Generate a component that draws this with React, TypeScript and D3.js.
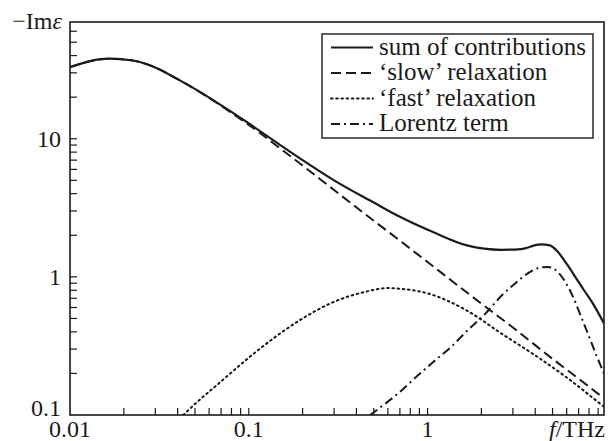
import React from "react";
import * as d3 from "d3";

const width = 608;
const height = 441;
const margin = { top: 22, right: 4, bottom: 26, left: 70 };

// frequency (THz) and -Im eps
const sumF = [0.01, 0.013, 0.0165, 0.022, 0.028, 0.04, 0.055, 0.075, 0.1, 0.15, 0.2, 0.3, 0.5, 0.7, 1.08, 1.66, 2.58, 3.33, 4.3, 4.83, 5.35, 6.0, 6.67, 7.5, 8.3, 9.7];
const sumV = [33, 36.5, 38, 37, 34, 27, 21.3, 16.5, 12.9, 9.0, 7.0, 5.0, 3.45, 2.72, 2.1, 1.69, 1.57, 1.59, 1.72, 1.69, 1.52, 1.24, 1.01, 0.8, 0.66, 0.46];

const slowF = [0.01, 0.013, 0.0165, 0.022, 0.028, 0.04, 0.055, 0.075, 0.1, 0.15, 0.2, 0.3, 0.5, 0.7, 1, 2, 3, 5, 7, 9.7];
const slowV = [33, 36.5, 38, 37, 34, 27, 21.2, 16.3, 12.6, 8.5, 6.4, 4.25, 2.55, 1.83, 1.28, 0.64, 0.43, 0.255, 0.183, 0.132];

const fastF = [0.043, 0.05, 0.07, 0.1, 0.15, 0.2, 0.3, 0.45, 0.6, 0.7, 1, 1.66, 2.58, 4, 6.1, 9, 9.7];
const fastV = [0.1, 0.12, 0.175, 0.26, 0.39, 0.5, 0.66, 0.78, 0.83, 0.82, 0.76, 0.57, 0.39, 0.27, 0.184, 0.124, 0.115];

const lorF = [0.477, 0.6, 0.7, 0.85, 1.08, 1.35, 1.66, 2.1, 2.58, 3.1, 3.6, 4.2, 4.7, 5.2, 5.8, 6.5, 7.2, 8, 8.8, 9.7];
const lorV = [0.1, 0.125, 0.147, 0.185, 0.243, 0.31, 0.406, 0.54, 0.726, 0.9, 1.05, 1.16, 1.18, 1.12, 0.95, 0.72, 0.52, 0.37, 0.27, 0.2];

const xTickLabels = ["0.01", "0.1", "1"];
const yTickLabels = ["0.1", "1", "10"];
const legendLabels = ["sum of contributions", "\u2018slow\u2019 relaxation", "\u2018fast\u2019 relaxation", "Lorentz term"];
const dashes = [null, "10,5", "1.6,3.6", "9,4,2,4"];

const font = "'Liberation Serif', 'DejaVu Serif', serif";
const ink = "#1a1a1a";

export default function App() {
  const x = d3.scaleLog().domain([0.01, 9.7]).range([margin.left, width - margin.right]);
  const y = d3.scaleLog().domain([0.1, 70]).range([height - margin.bottom, margin.top]);

  const line = d3
    .line<[number, number]>()
    .x(d => x(d[0]))
    .y(d => y(d[1]))
    .curve(d3.curveMonotoneX);

  const series = [
    { f: sumF, v: sumV, w: 2.2 },
    { f: slowF, v: slowV, w: 2 },
    { f: fastF, v: fastV, w: 2 },
    { f: lorF, v: lorV, w: 2 }
  ];

  // minor ticks
  const xTicks: number[] = [];
  for (let dec = 0.01; dec < 10; dec *= 10) {
    for (let k = 1; k <= 9; k++) {
      const t = +(dec * k).toPrecision(3);
      if (t > 0.01 && t < 9.7) xTicks.push(t);
    }
  }
  const yTicks: number[] = [];
  for (let dec = 0.1; dec < 100; dec *= 10) {
    for (let k = 1; k <= 9; k++) {
      const t = +(dec * k).toPrecision(3);
      if (t > 0.1 && t < 70) yTicks.push(t);
    }
  }

  const bottom = height - margin.bottom;
  const tick = 7;
  const txt = { fontFamily: font, fontSize: "24px" };
  const legTxt = { fontFamily: font, fontSize: "25px" };

  const lg = { x: 322, y: 34, w: 271, h: 104, row: 25.5 };

  return (
    <svg width={width} height={height} style={{ position: "absolute", left: 0, top: 0, background: "#fff" }}>
      <defs>
        <clipPath id="plot">
          <rect x={margin.left} y={margin.top} width={width - margin.left - margin.right} height={bottom - margin.top} />
        </clipPath>
      </defs>

      <g clipPath="url(#plot)">
        {series.map((s, i) => (
          <path
            key={i}
            d={line(s.f.map((f, j) => [f, s.v[j]] as [number, number])) || ""}
            fill="none"
            stroke={ink}
            strokeWidth={s.w}
            strokeDasharray={dashes[i] || undefined}
            strokeLinecap={i === 2 ? "round" : "butt"}
          />
        ))}
      </g>

      {xTicks.map(t => (
        <line key={"x" + t} x1={x(t)} x2={x(t)} y1={bottom} y2={bottom - tick} stroke={ink} strokeWidth={1.2} />
      ))}
      {yTicks.map(t => (
        <line key={"y" + t} x1={margin.left} x2={margin.left + tick} y1={y(t)} y2={y(t)} stroke={ink} strokeWidth={1.2} />
      ))}

      <rect
        x={margin.left}
        y={margin.top}
        width={width - margin.left - margin.right}
        height={bottom - margin.top}
        fill="none"
        stroke={ink}
        strokeWidth={1.6}
      />

      <g fill={ink}>
        {xTickLabels.map(l => (
          <text key={l} x={x(+l)} y={bottom + 22} textAnchor="middle" style={txt}>{l}</text>
        ))}
        <text x={width - 3} y={bottom + 22} textAnchor="end" style={txt}>
          <tspan fontStyle="italic">f</tspan>/THz
        </text>
        {yTickLabels.map(l => (
          <text key={l} x={margin.left - 9} y={Math.min(y(+l) + 8, bottom + 1)} textAnchor="end" style={txt}>{l}</text>
        ))}
        <text x={margin.left - 8} y={margin.top + 7} textAnchor="end" style={txt}>
          {"\u2212Im"}<tspan fontStyle="italic">{"\u03b5"}</tspan>
        </text>
      </g>

      <g>
        <rect x={lg.x} y={lg.y} width={lg.w} height={lg.h} fill="#fff" stroke={ink} strokeWidth={1.4} />
        {legendLabels.map((l, i) => {
          const cy = lg.y + 13.5 + i * lg.row;
          return (
            <g key={l}>
              <line
                x1={lg.x + 9}
                x2={lg.x + 51}
                y1={cy}
                y2={cy}
                stroke={ink}
                strokeWidth={2}
                strokeDasharray={dashes[i] || undefined}
                strokeLinecap={i === 2 ? "round" : "butt"}
              />
              <text x={lg.x + 57} y={cy + 7} fill={ink} style={legTxt}>{l}</text>
            </g>
          );
        })}
      </g>
    </svg>
  );
}
